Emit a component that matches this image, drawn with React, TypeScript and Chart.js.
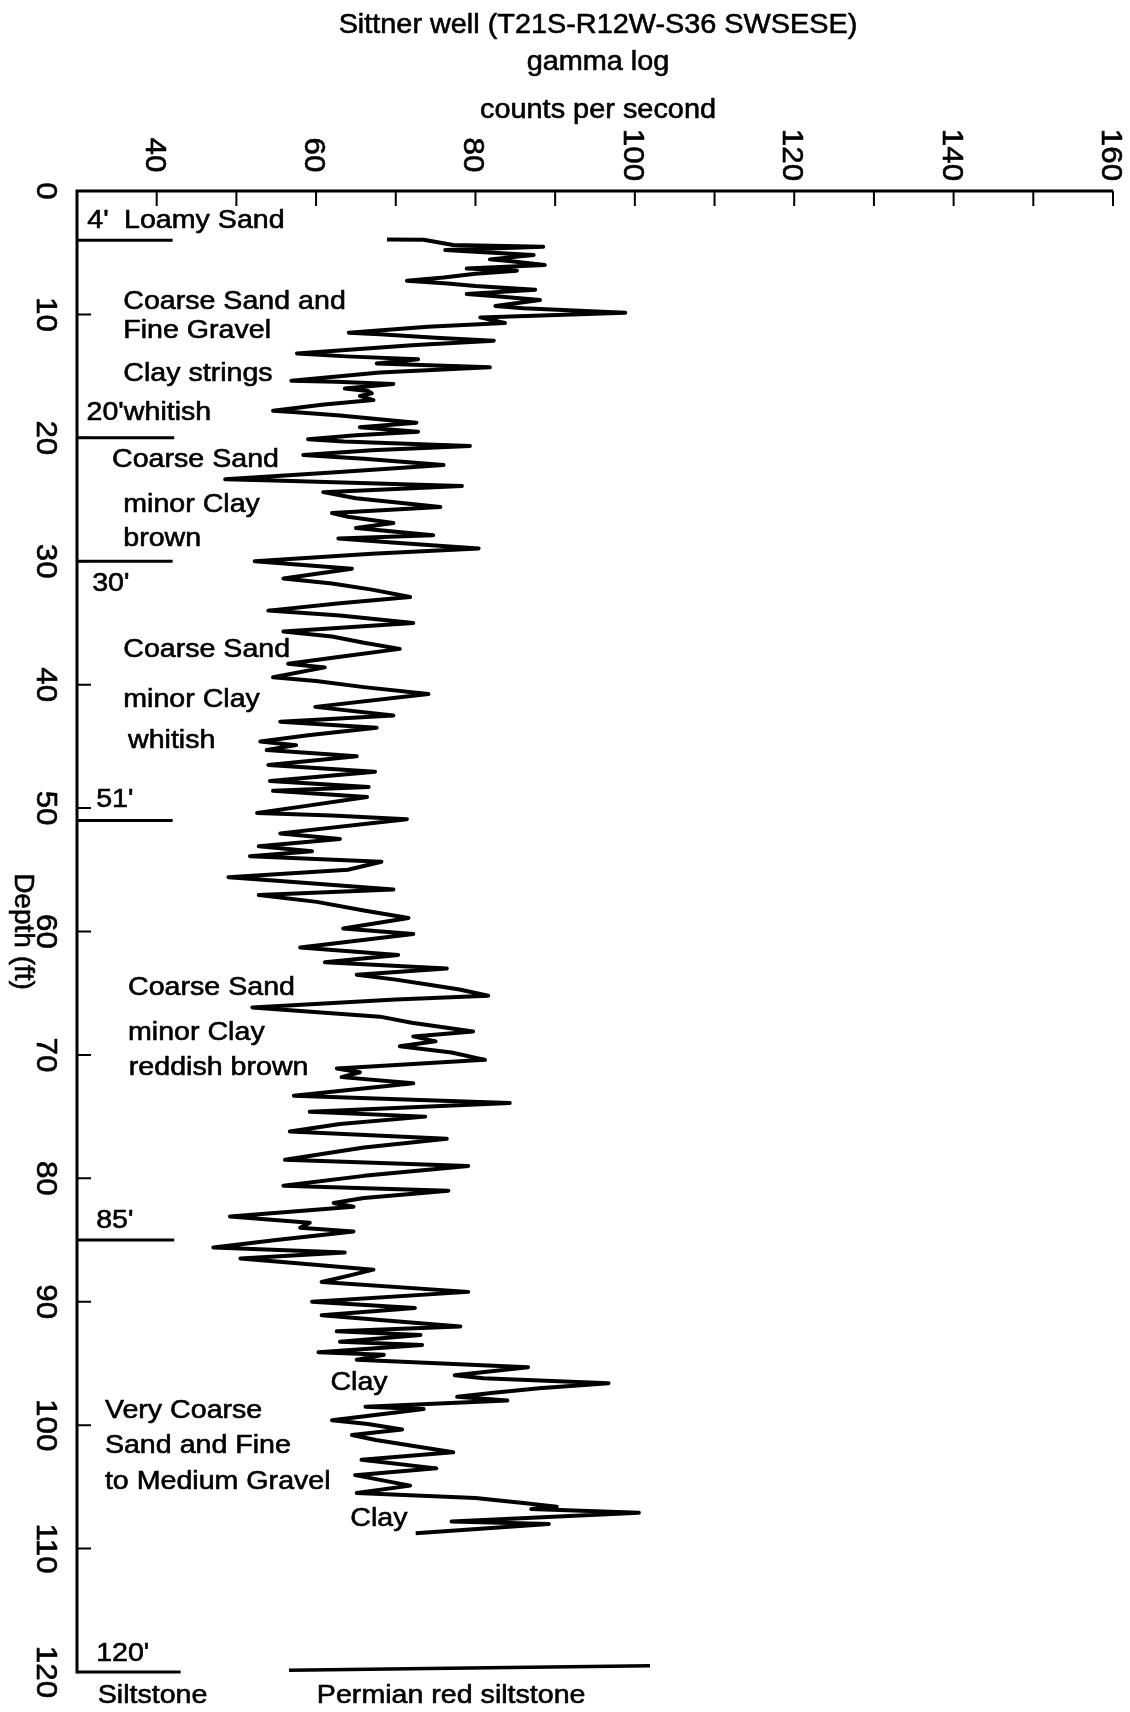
import React, { useEffect, useRef } from "react";
import { Chart, registerables } from "chart.js";

Chart.register(...registerables);

// ---- Gamma log (depth in ft, counts per second) ----
const depthFt: number[] = [
  3.92, 3.95, 4.38, 4.51, 4.78, 4.95, 5.19, 5.54, 5.7, 6.0,
  6.27, 6.46, 6.7, 7.0, 7.27, 7.5, 7.7, 8.0, 8.35, 8.55,
  8.83, 9.32, 9.5, 9.86, 10.24, 10.7, 11.0, 11.48, 11.6, 11.9,
  12.13, 12.5, 13.16, 13.4, 13.64, 13.97, 14.29, 14.7, 15.37, 15.45,
  15.64, 16.0, 16.2, 16.4, 16.6, 16.94, 17.3, 17.8, 17.95, 18.2,
  18.56, 18.77, 19.15, 19.5, 19.8, 20.12, 20.3, 20.66, 21.0, 21.4,
  21.7, 22.2, 22.8, 23.36, 23.5, 23.9, 24.4, 24.9, 25.6, 26.1,
  26.4, 26.9, 27.3, 27.9, 28.15, 28.5, 28.96, 29.4, 30.0, 30.6,
  31.4, 31.8, 32.3, 32.9, 33.4, 34.0, 34.4, 35.0, 35.7, 36.1,
  36.6, 37.1, 37.7, 38.3, 38.6, 39.4, 39.7, 40.2, 40.76, 41.8,
  42.5, 43.0, 43.5, 44.1, 44.6, 44.9, 45.3, 45.8, 46.5, 47.05,
  47.8, 48.3, 48.6, 49.1, 49.8, 50.4, 50.6, 50.9, 52.05, 52.5,
  53.1, 53.5, 53.9, 54.35, 55.0, 55.6, 55.9, 56.6, 57.05, 57.6,
  58.3, 58.9, 59.75, 60.2, 61.3, 61.9, 62.5, 63.0, 63.5, 63.9,
  64.3, 64.7, 65.2, 65.5, 66.15, 66.9, 67.4, 68.1, 68.5, 68.9,
  69.3, 69.8, 70.4, 71.1, 71.4, 71.8, 72.3, 73.3, 73.9, 74.6,
  75.0, 75.6, 76.2, 76.8, 77.5, 78.5, 79.0, 79.8, 80.6, 81.0,
  81.6, 82.0, 82.3, 83.1, 83.6, 84.0, 84.3, 85.0, 85.6, 86.0,
  86.5, 86.9, 87.4, 87.9, 88.4, 89.2, 90.0, 90.5, 91.1, 92.0,
  92.4, 92.7, 93.25, 93.5, 94.1, 94.3, 94.7, 95.3, 95.95, 96.2,
  96.6, 97.0, 97.4, 97.7, 98.0, 98.5, 98.7, 99.0, 99.6, 99.9,
  100.35, 100.8, 101.2, 102.2, 102.8, 103.5, 104.05, 104.9, 105.5, 105.9,
  106.3, 106.6, 106.8, 107.1, 107.8, 108.0, 108.75,
];

const gammaCps: number[] = [
  68.9, 73.5, 77.2, 88.5, 76.2, 80.5, 87.3, 81.8, 84.5, 88.7,
  78.9, 85.2, 80, 76, 71.4, 76.5, 80, 87.5, 78.9, 83,
  88.1, 82.5, 86, 98.8, 80.6, 83.7, 74, 64.1, 68, 75,
  82.3, 72, 57.6, 63.8, 72.8, 67.6, 81.8, 68, 56.9, 62.5,
  69.7, 63.6, 66.5, 67, 65.5, 67.2, 61, 54.6, 58, 63,
  68.9, 72.6, 65.5, 72.8, 65, 59, 63.5, 79.3, 67, 58.4,
  66, 76, 62, 48.6, 57, 78.3, 60.9, 65, 75.6, 62,
  64, 69.7, 65, 74.7, 62.8, 70, 80.4, 67, 52.3, 64.5,
  55.9, 62, 67, 71.8, 63, 54, 63, 72.2, 55.9, 62,
  66, 70.5, 63.5, 56.5, 61.1, 54.6, 60, 66, 74.1, 59.9,
  69.7, 55.5, 67.6, 59, 53, 57.5, 53.8, 65.1, 54, 67.4,
  54.2, 66.6, 54.6, 66.4, 59, 52.6, 62, 71.4, 55.5, 63,
  52.8, 59.5, 51.7, 68.2, 64, 49, 55.5, 69.7, 52.8, 60.1,
  66, 71.6, 63.4, 72.2, 58, 70.3, 61.1, 76.4, 65.1, 70,
  74, 78, 81.6, 70, 52, 68, 72, 79.7, 72.2, 75,
  70.5, 77, 81.2, 62.6, 65.5, 63.2, 72.2, 57.2, 84.3, 59.2,
  73.7, 63, 56.7, 76.4, 66, 56.1, 79.1, 66, 55.9, 76.6,
  66, 62.2, 64.7, 49.2, 59.2, 58, 64.7, 55, 47.1, 63.6,
  50.5, 58, 67.2, 64, 60.7, 79.1, 59.5, 72.4, 60.7, 78.1,
  62.6, 73.1, 63, 73.3, 60.3, 68.5, 65.1, 86.6, 77.4, 81,
  96.7, 88, 82, 77.7, 84, 66.2, 73.5, 69.7, 62, 66.5,
  70.8, 64.5, 67.5, 77.2, 65.7, 75.1, 64.9, 71.8, 65.1, 80,
  86, 90.2, 87, 100.5, 77, 89.2, 72.5,
];

// ---- Lithology boundaries (depth, ft) ----
const boundaryDepths: number[] = [4, 20, 30, 51, 85, 120];
const boundaryEndCps: number[] = [42, 42.2, 42, 42, 42.2, 43];
const permianLineCps: number[] = [56.6, 101.9];
const permianLineDepth: number[] = [119.85, 119.5];

// ---- Axes ----
const xMin = 30;
const xMax = 160;
const yMin = 0;
const yMax = 120;
const xTickValues: number[] = [40, 50, 60, 70, 80, 90, 100, 110, 120, 130, 140, 150, 160];
const xTickLabels: number[] = [40, 60, 80, 100, 120, 140, 160];
const yTickValues: number[] = [10, 20, 30, 40, 50, 60, 70, 80, 90, 100, 110];
const yTickLabels: number[] = [0, 10, 20, 30, 40, 50, 60, 70, 80, 90, 100, 110, 120];

// ---- Texts ----
const titleLines: string[] = ["Sittner well (T21S-R12W-S36 SWSESE)", "gamma log"];
const xAxisTitle = "counts per second";
const yAxisTitle = "Depth (ft)";

const noteTexts: string[] = [
  "4'", "Loamy Sand", "Coarse Sand and", "Fine Gravel", "Clay strings", "20'whitish",
  "Coarse Sand", "minor Clay", "brown", "30'", "Coarse Sand", "minor Clay", "whitish",
  "51'", "Coarse Sand", "minor Clay", "reddish brown", "85'", "Clay", "Very Coarse",
  "Sand and Fine", "to Medium Gravel", "Clay", "120'", "Siltstone", "Permian red siltstone",
];
const noteCps: number[] = [
  31.3, 35.9, 35.8, 35.8, 35.8, 31.2,
  34.4, 35.8, 35.8, 31.9, 35.8, 35.8, 36.4,
  32.4, 36.4, 36.4, 36.5, 32.4, 61.8, 33.5,
  33.5, 33.5, 64.3, 32.4, 32.6, 60.1,
];
const noteDepth: number[] = [
  2.4, 2.4, 8.95, 11.35, 14.85, 17.95,
  21.8, 25.4, 28.15, 31.85, 37.2, 41.25, 44.57,
  49.3, 64.6, 68.2, 71.07, 83.47, 96.6, 98.87,
  101.7, 104.6, 107.6, 118.56, 121.9, 121.9,
];

const FONT = '"Liberation Sans", Arial, Helvetica, sans-serif';

function drawText(
  ctx: CanvasRenderingContext2D,
  text: string,
  x: number,
  y: number,
  size: number,
  stretch: number,
  align: CanvasTextAlign,
  angle = 0
) {
  ctx.save();
  ctx.translate(x, y);
  if (angle) ctx.rotate(angle);
  ctx.scale(stretch, 1);
  ctx.font = `${size}px ${FONT}`;
  ctx.textAlign = align;
  ctx.textBaseline = "middle";
  ctx.fillStyle = "#000";
  ctx.strokeStyle = "#000";
  ctx.lineWidth = 0.6;
  ctx.lineJoin = "round";
  ctx.fillText(text, 0, 0);
  ctx.strokeText(text, 0, 0);
  ctx.restore();
}

const decorPlugin = {
  id: "wellLogDecor",
  afterDraw(chart: any) {
    const ctx: CanvasRenderingContext2D = chart.ctx;
    const xs = chart.scales.x;
    const ys = chart.scales.y;
    const area = chart.chartArea;

    ctx.save();
    ctx.strokeStyle = "#000";
    ctx.lineCap = "butt";

    // axis lines
    ctx.lineWidth = 3;
    ctx.beginPath();
    ctx.moveTo(area.left - 1.5, area.top);
    ctx.lineTo(area.right, area.top);
    ctx.moveTo(area.left, area.top);
    ctx.lineTo(area.left, area.bottom + 1.5);
    ctx.stroke();

    // tick marks pointing inward
    ctx.lineWidth = 2;
    ctx.beginPath();
    xTickValues.forEach((v) => {
      const px = xs.getPixelForValue(v);
      ctx.moveTo(px, area.top);
      ctx.lineTo(px, area.top + 15);
    });
    yTickValues.forEach((d) => {
      const py = ys.getPixelForValue(d);
      ctx.moveTo(area.left, py);
      ctx.lineTo(area.left + 14, py);
    });
    ctx.stroke();
    ctx.restore();

    // tick labels (rotated clockwise)
    xTickLabels.forEach((v) => {
      drawText(ctx, String(v), xs.getPixelForValue(v) - 3, area.top - 36, 29, 1.08, "center", Math.PI / 2);
    });
    yTickLabels.forEach((d) => {
      drawText(ctx, String(d), area.left - 32, ys.getPixelForValue(d), 29, 1.08, "center", Math.PI / 2);
    });
    drawText(ctx, yAxisTitle, 23, ys.getPixelForValue(60), 28, 1.0, "center", Math.PI / 2);

    // titles
    drawText(ctx, titleLines[0], 598, 25, 28, 1.03, "center");
    drawText(ctx, titleLines[1], 598, 62, 28, 1.03, "center");
    drawText(ctx, xAxisTitle, 598, 111, 27, 1.07, "center");

    // lithology notes
    noteTexts.forEach((t, i) => {
      drawText(ctx, t, xs.getPixelForValue(noteCps[i]), ys.getPixelForValue(noteDepth[i]), 26, 1.1, "left");
    });
  },
};

export default function App() {
  const canvasRef = useRef<HTMLCanvasElement | null>(null);

  useEffect(() => {
    const canvas = canvasRef.current;
    if (!canvas) return;

    const logData = depthFt.map((d, i) => ({ x: gammaCps[i], y: d }));
    const boundarySets = boundaryDepths.map((d, i) => ({
      data: [
        { x: xMin, y: d },
        { x: boundaryEndCps[i], y: d },
      ],
      showLine: true,
      borderColor: "#000",
      borderWidth: 3,
      pointRadius: 0,
      clip: false as const,
    }));

    const chart = new Chart(canvas, {
      type: "scatter",
      data: {
        datasets: [
          {
            data: logData,
            showLine: true,
            borderColor: "#000",
            borderWidth: 4,
            borderJoinStyle: "round",
            tension: 0,
            pointRadius: 0,
            clip: false as const,
          },
          ...boundarySets,
          {
            data: permianLineCps.map((x, i) => ({ x, y: permianLineDepth[i] })),
            showLine: true,
            borderColor: "#000",
            borderWidth: 3.5,
            pointRadius: 0,
            clip: false as const,
          },
        ],
      },
      options: {
        responsive: false,
        animation: false,
        devicePixelRatio: 1,
        layout: { padding: { left: 77, top: 191, right: 17, bottom: 40 } },
        plugins: {
          legend: { display: false },
          tooltip: { enabled: false },
          title: { display: false },
        },
        scales: {
          x: {
            type: "linear",
            position: "top",
            min: xMin,
            max: xMax,
            ticks: { display: false },
            grid: { display: false, drawTicks: false },
            border: { display: false },
          },
          y: {
            type: "linear",
            reverse: true,
            min: yMin,
            max: yMax,
            ticks: { display: false },
            grid: { display: false, drawTicks: false },
            border: { display: false },
          },
        },
      },
      plugins: [decorPlugin],
    });

    return () => chart.destroy();
  }, []);

  return (
    <div style={{ position: "absolute", left: 0, top: 0, width: 1130, height: 1712, background: "#fff" }}>
      <canvas ref={canvasRef} width={1130} height={1712} style={{ display: "block" }} />
    </div>
  );
}
